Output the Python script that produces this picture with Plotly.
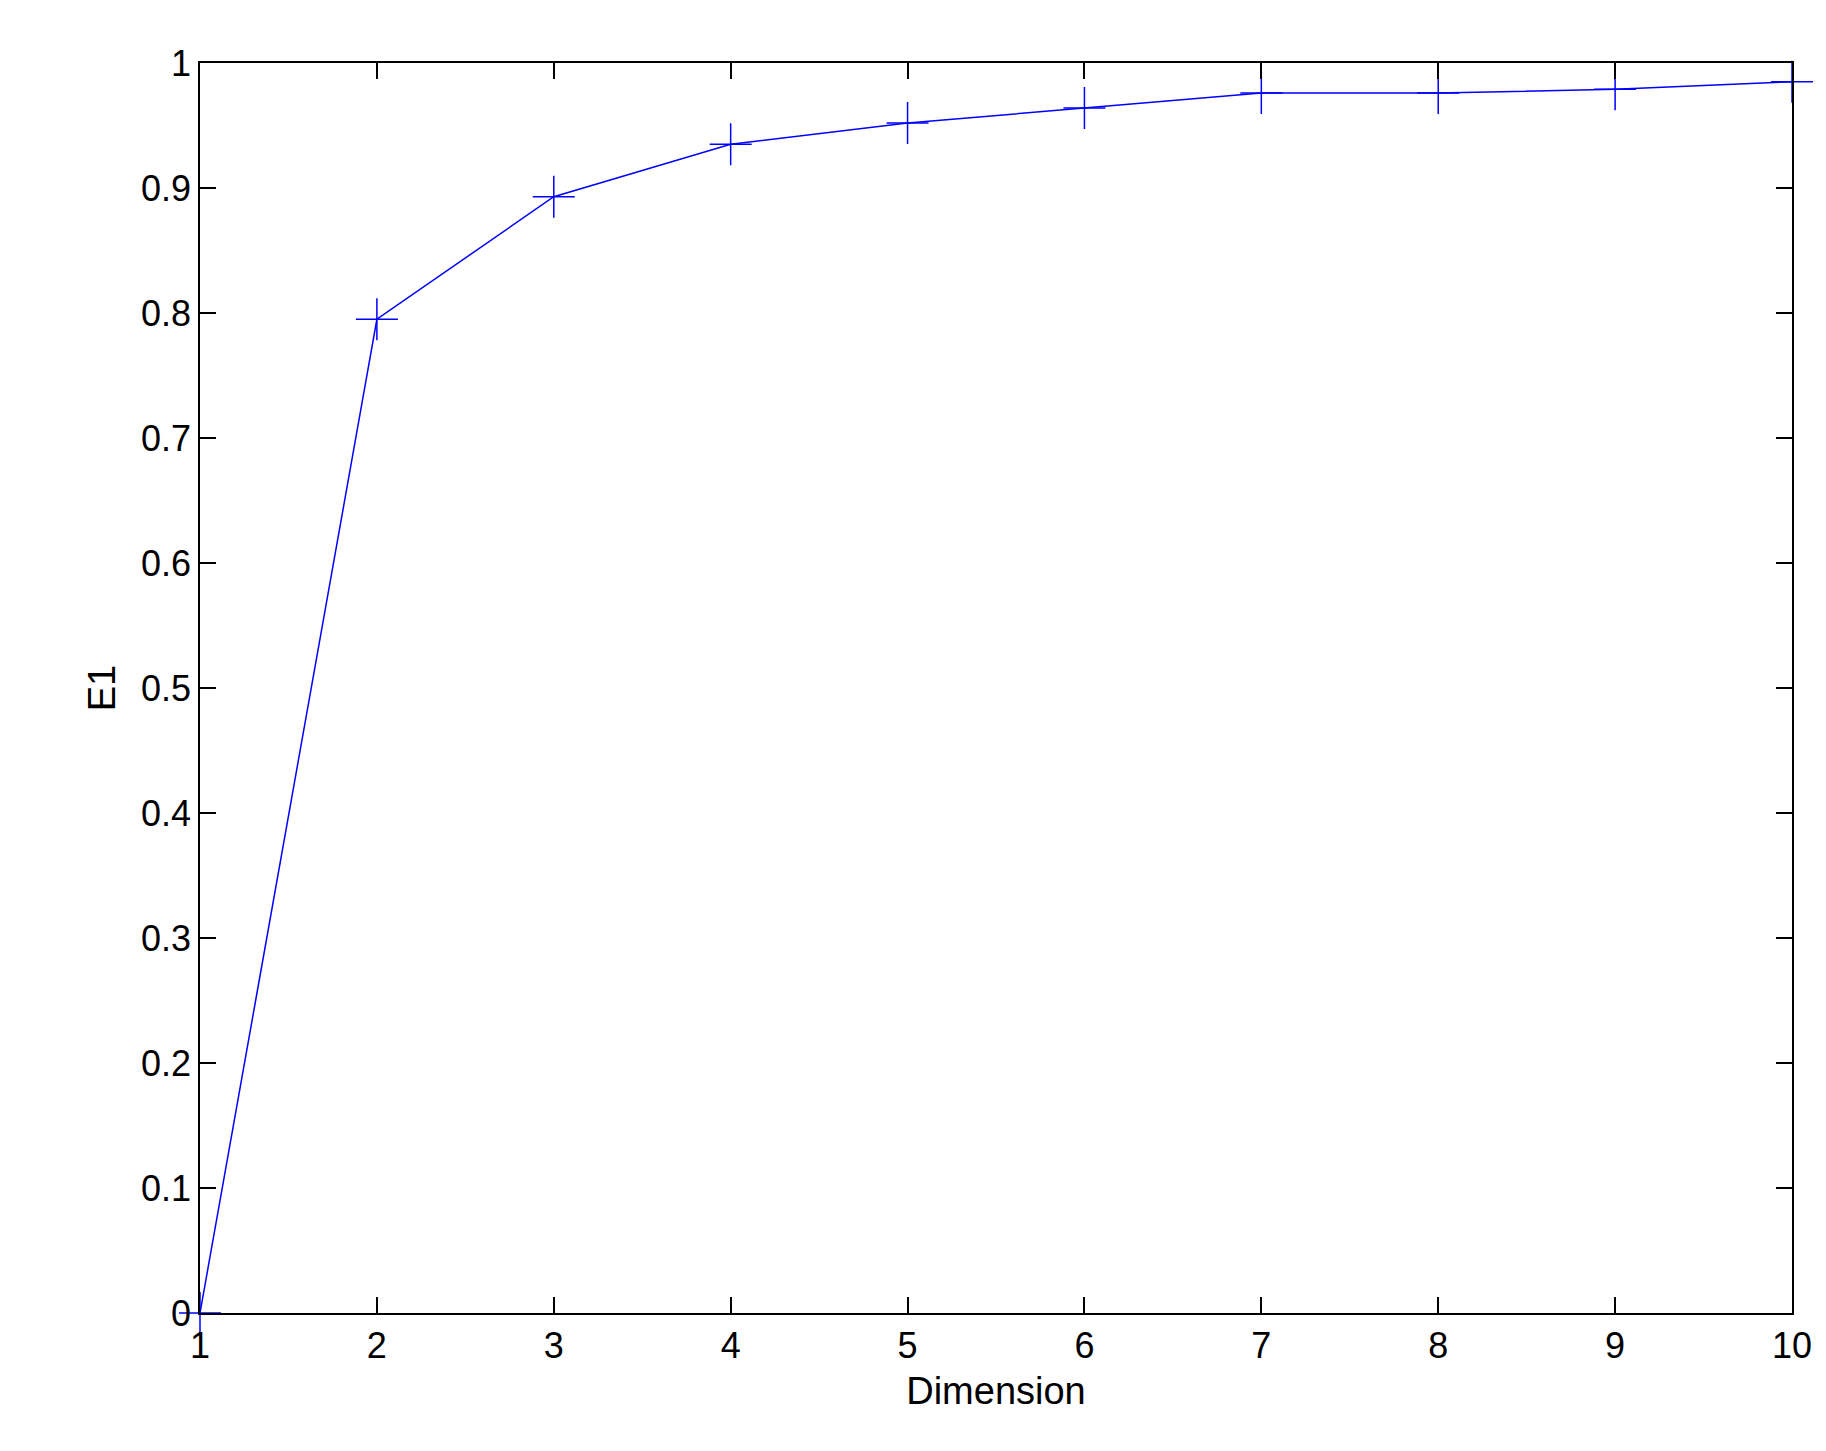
import plotly.graph_objects as go

dims = [1, 2, 3, 4, 5, 6, 7, 8, 9, 10]
e1 = [0.0, 0.795, 0.893, 0.935, 0.952, 0.964, 0.976, 0.976, 0.979, 0.985]
x_ticks = [1, 2, 3, 4, 5, 6, 7, 8, 9, 10]
y_ticks = [0, 0.1, 0.2, 0.3, 0.4, 0.5, 0.6, 0.7, 0.8, 0.9, 1]
y_labels = ['0', '0.1', '0.2', '0.3', '0.4', '0.5', '0.6', '0.7', '0.8', '0.9', '1']

fig = go.Figure()
fig.add_trace(go.Scatter(
    x=dims, y=e1, mode='lines+markers',
    line=dict(color='#0000ff', width=1.5),
    marker=dict(symbol='cross-thin', size=30, line=dict(color='#0000ff', width=1.5)),
    cliponaxis=False, showlegend=False,
))

axis_style = dict(showline=True, linecolor='black', linewidth=1.5, mirror='ticks',
                  ticks='inside', ticklen=16, tickcolor='black', tickwidth=1.5,
                  showgrid=False, zeroline=False,
                  tickfont=dict(family='Liberation Sans, Arial', size=36, color='black'))

fig.update_xaxes(range=[1, 10], tickvals=x_ticks, title_text='Dimension',
                 title_font=dict(family='Liberation Sans, Arial', size=38, color='black'),
                 title_standoff=12, **axis_style)
fig.update_yaxes(range=[0, 1], tickvals=y_ticks, ticktext=y_labels, title_text='E1',
                 title_font=dict(family='Liberation Sans, Arial', size=38, color='black'),
                 title_standoff=14, **axis_style)

fig.update_layout(
    width=1826, height=1451,
    paper_bgcolor='white', plot_bgcolor='white',
    margin=dict(l=192, r=42, t=55, b=146),
)
fig.write_html("out.html")
